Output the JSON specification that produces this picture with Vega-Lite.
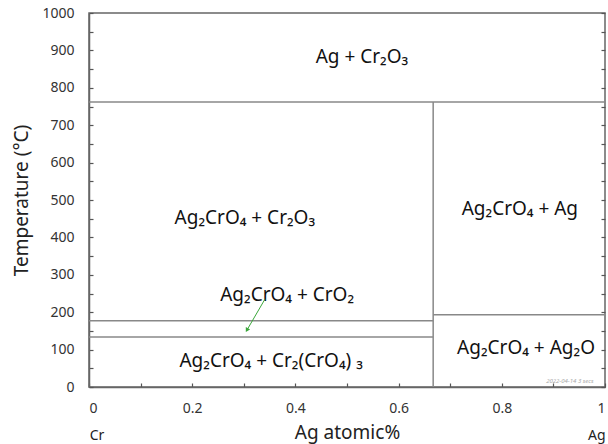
{
  "$schema": "https://vega.github.io/schema/vega-lite/v6.json",
  "width": 516,
  "height": 374,
  "autosize": {"type": "none"},
  "padding": {"left": 89, "top": 13, "right": 3, "bottom": 57},
  "background": "white",
  "config": {
    "view": {"stroke": "#666", "strokeWidth": 1.5},
    "font": "Noto Sans",
    "axis": {"grid": false, "labelFont": "Noto Sans", "titleFont": "Noto Sans", "labelColor": "#333", "titleColor": "#222", "domainColor": "#666", "domainWidth": 1.5, "tickColor": "#555", "tickWidth": 1.2}
  },
  "datasets": {
    "lines": [
      {"x": 0, "x2": 1, "y": 762, "y2": 762},
      {"x": 0.667, "x2": 0.667, "y": 0, "y2": 762},
      {"x": 0, "x2": 0.667, "y": 177, "y2": 177},
      {"x": 0, "x2": 0.667, "y": 134, "y2": 134},
      {"x": 0.667, "x2": 1, "y": 193, "y2": 193}
    ],
    "labels": [
      {"x": 0.529, "y": 882, "text": "Ag + Cr₂O₃"},
      {"x": 0.302, "y": 452, "text": "Ag₂CrO₄ + Cr₂O₃"},
      {"x": 0.384, "y": 245, "text": "Ag₂CrO₄ + CrO₂"},
      {"x": 0.353, "y": 70, "text": "Ag₂CrO₄ + Cr₂(CrO₄) ₃"},
      {"x": 0.835, "y": 475, "text": "Ag₂CrO₄ + Ag"},
      {"x": 0.847, "y": 104, "text": "Ag₂CrO₄ + Ag₂O"}
    ],
    "arrow": [{"x": 0.341, "x2": 0.306, "y": 235, "y2": 152}],
    "ends": [
      {"x": 0.0155, "y": -131, "text": "Cr"},
      {"x": 0.984, "y": -131, "text": "Ag"}
    ],
    "stamp": [{"x": 0.932, "y": 16, "text": "2022-04-14  3 secs"}],
    "rticks": [{"y": 0}]
  },
  "layer": [
    {
      "data": {"name": "lines"},
      "mark": {"type": "rule", "color": "#888", "strokeWidth": 1.5},
      "encoding": {
        "x": {"field": "x", "type": "quantitative", "scale": {"domain": [0, 1], "nice": false},
          "axis": {"title": "Ag atomic%", "titleFontSize": 19, "titleFontWeight": "normal", "titlePadding": 8,
            "values": [0, 0.1, 0.2, 0.3, 0.4, 0.5, 0.6, 0.7, 0.8, 0.9, 1],
            "labelExpr": "round(datum.value*10) % 2 == 0 ? format(datum.value, '~g') : ''",
            "labelFontSize": 14, "tickSize": -4, "labelPadding": 18, "labelFlush": true}},
        "x2": {"field": "x2"},
        "y": {"field": "y", "type": "quantitative", "scale": {"domain": [0, 1000], "nice": false},
          "axis": {"title": "Temperature (°C)", "titleFontSize": 19, "titleFontWeight": "normal", "titlePadding": 10,
            "values": [0, 50, 100, 150, 200, 250, 300, 350, 400, 450, 500, 550, 600, 650, 700, 750, 800, 850, 900, 950, 1000],
            "labelExpr": "datum.value % 100 == 0 ? datum.value : ''",
            "labelFontSize": 14, "tickSize": -4, "labelPadding": 19, "labelFlush": false}},
        "y2": {"field": "y2"}
      }
    },
    {
      "data": {"name": "rticks"},
      "mark": {"type": "point", "opacity": 0},
      "encoding": {
        "y": {"field": "y", "type": "quantitative", "scale": {"domain": [0, 1000], "nice": false},
          "axis": {"orient": "right", "title": null, "labels": false, "domain": false, "tickSize": -4,
            "values": [0, 50, 100, 150, 200, 250, 300, 350, 400, 450, 500, 550, 600, 650, 700, 750, 800, 850, 900, 950, 1000]}}
      }
    },
    {
      "data": {"name": "labels"},
      "mark": {"type": "text", "fontSize": 19, "color": "#111", "align": "center", "baseline": "middle"},
      "encoding": {
        "x": {"field": "x", "type": "quantitative"},
        "y": {"field": "y", "type": "quantitative", "axis": null},
        "text": {"field": "text"}
      }
    },
    {
      "data": {"name": "arrow"},
      "mark": {"type": "rule", "color": "#3aa63a", "strokeWidth": 1},
      "encoding": {
        "x": {"field": "x", "type": "quantitative"},
        "x2": {"field": "x2"},
        "y": {"field": "y", "type": "quantitative", "axis": null},
        "y2": {"field": "y2"}
      }
    },
    {
      "data": {"name": "arrow"},
      "mark": {"type": "point", "shape": "triangle-up", "filled": true, "color": "#3aa63a", "size": 24, "angle": 210, "opacity": 1},
      "encoding": {
        "x": {"field": "x2", "type": "quantitative"},
        "y": {"field": "y2", "type": "quantitative", "axis": null}
      }
    },
    {
      "data": {"name": "ends"},
      "mark": {"type": "text", "fontSize": 14, "color": "#222", "align": "center", "baseline": "middle"},
      "encoding": {
        "x": {"field": "x", "type": "quantitative"},
        "y": {"field": "y", "type": "quantitative", "axis": null},
        "text": {"field": "text"}
      }
    },
    {
      "data": {"name": "stamp"},
      "mark": {"type": "text", "fontSize": 6, "fontStyle": "italic", "color": "#aaa", "align": "center", "baseline": "middle"},
      "encoding": {
        "x": {"field": "x", "type": "quantitative"},
        "y": {"field": "y", "type": "quantitative", "axis": null},
        "text": {"field": "text"}
      }
    }
  ],
  "resolve": {"axis": {"y": "independent"}}
}
